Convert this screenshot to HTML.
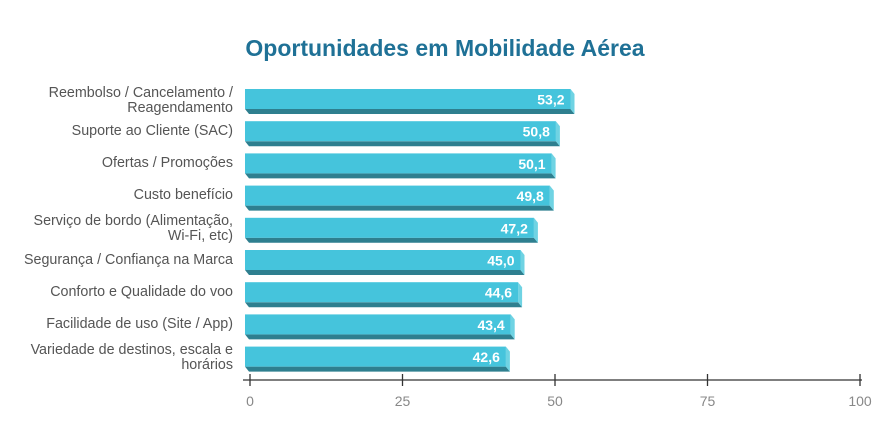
<!DOCTYPE html>
<html><head><meta charset="utf-8"><style>
body{margin:0;background:#fff;}
svg{display:block;font-family:"Liberation Sans",sans-serif;}
</style></head><body>
<svg width="890" height="427" viewBox="0 0 890 427">
<text x="445" y="56" text-anchor="middle" font-size="23" font-weight="bold" fill="#1f7196">Oportunidades em Mobilidade Aérea</text>

<g font-size="14" font-weight="bold" fill="#fff" text-anchor="end">
<g transform="translate(0,89)"><polygon points="245,20 570.5,20 574.5,25 249,25" fill="#2e7f8f"/><polygon points="570.5,0 574.5,5 574.5,25 570.5,20" fill="#6fd3e3"/><rect x="245" y="0" width="325.5" height="20" fill="#45c4dc"/><text x="564.5" y="15.5">53,2</text></g>
<g transform="translate(0,121.2)"><polygon points="245,20 555.9,20 559.9,25 249,25" fill="#2e7f8f"/><polygon points="555.9,0 559.9,5 559.9,25 555.9,20" fill="#6fd3e3"/><rect x="245" y="0" width="310.9" height="20" fill="#45c4dc"/><text x="549.9" y="15.5">50,8</text></g>
<g transform="translate(0,153.4)"><polygon points="245,20 551.6,20 555.6,25 249,25" fill="#2e7f8f"/><polygon points="551.6,0 555.6,5 555.6,25 551.6,20" fill="#6fd3e3"/><rect x="245" y="0" width="306.6" height="20" fill="#45c4dc"/><text x="545.6" y="15.5">50,1</text></g>
<g transform="translate(0,185.6)"><polygon points="245,20 549.8,20 553.8,25 249,25" fill="#2e7f8f"/><polygon points="549.8,0 553.8,5 553.8,25 549.8,20" fill="#6fd3e3"/><rect x="245" y="0" width="304.8" height="20" fill="#45c4dc"/><text x="543.8" y="15.5">49,8</text></g>
<g transform="translate(0,217.8)"><polygon points="245,20 533.9,20 537.9,25 249,25" fill="#2e7f8f"/><polygon points="533.9,0 537.9,5 537.9,25 533.9,20" fill="#6fd3e3"/><rect x="245" y="0" width="288.9" height="20" fill="#45c4dc"/><text x="527.9" y="15.5">47,2</text></g>
<g transform="translate(0,250)"><polygon points="245,20 520.5,20 524.5,25 249,25" fill="#2e7f8f"/><polygon points="520.5,0 524.5,5 524.5,25 520.5,20" fill="#6fd3e3"/><rect x="245" y="0" width="275.5" height="20" fill="#45c4dc"/><text x="514.5" y="15.5">45,0</text></g>
<g transform="translate(0,282.2)"><polygon points="245,20 518.1,20 522.1,25 249,25" fill="#2e7f8f"/><polygon points="518.1,0 522.1,5 522.1,25 518.1,20" fill="#6fd3e3"/><rect x="245" y="0" width="273.1" height="20" fill="#45c4dc"/><text x="512.1" y="15.5">44,6</text></g>
<g transform="translate(0,314.4)"><polygon points="245,20 510.7,20 514.7,25 249,25" fill="#2e7f8f"/><polygon points="510.7,0 514.7,5 514.7,25 510.7,20" fill="#6fd3e3"/><rect x="245" y="0" width="265.7" height="20" fill="#45c4dc"/><text x="504.7" y="15.5">43,4</text></g>
<g transform="translate(0,346.6)"><polygon points="245,20 505.9,20 509.9,25 249,25" fill="#2e7f8f"/><polygon points="505.9,0 509.9,5 509.9,25 505.9,20" fill="#6fd3e3"/><rect x="245" y="0" width="260.9" height="20" fill="#45c4dc"/><text x="499.9" y="15.5">42,6</text></g>
</g>

<line x1="243" y1="380" x2="862" y2="380" stroke="#333" stroke-width="1.3"/>
<g stroke="#333" stroke-width="1.3">
<line x1="250" y1="374" x2="250" y2="386"/><line x1="402.5" y1="374" x2="402.5" y2="386"/><line x1="555" y1="374" x2="555" y2="386"/><line x1="707.5" y1="374" x2="707.5" y2="386"/><line x1="860" y1="374" x2="860" y2="386"/>
</g>
<g font-size="14" fill="#888" text-anchor="middle">
<text x="250" y="406">0</text><text x="402.5" y="406">25</text><text x="555" y="406">50</text><text x="707.5" y="406">75</text><text x="860" y="406">100</text>
</g>
<g font-size="14.3" fill="#555" text-anchor="end">
<text x="233" y="97">Reembolso / Cancelamento /</text><text x="233" y="112">Reagendamento</text>
<text x="233" y="135">Suporte ao Cliente (SAC)</text>
<text x="233" y="167">Ofertas / Promoções</text>
<text x="233" y="199">Custo benefício</text>
<text x="233" y="225">Serviço de bordo (Alimentação,</text><text x="233" y="240">Wi-Fi, etc)</text>
<text x="233" y="264">Segurança / Confiança na Marca</text>
<text x="233" y="296">Conforto e Qualidade do voo</text>
<text x="233" y="328">Facilidade de uso (Site / App)</text>
<text x="233" y="354">Variedade de destinos, escala e</text><text x="233" y="369">horários</text>
</g>
</svg>
</body></html>
